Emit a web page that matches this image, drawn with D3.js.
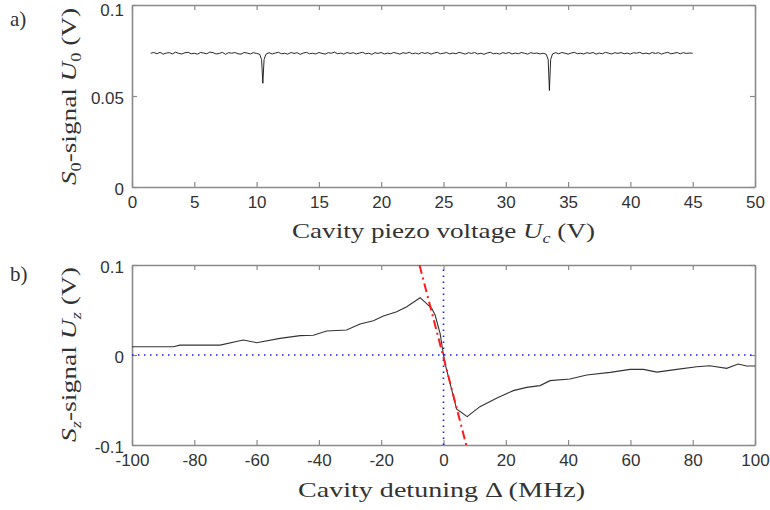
<!DOCTYPE html>
<html>
<head>
<meta charset="utf-8">
<script src="https://cdn.jsdelivr.net/npm/d3@7"></script>
<style>
  html, body { margin: 0; padding: 0; background: #fff; }
  svg { display: block; }
  .tick text { font-family: "Liberation Sans", Arial, sans-serif; font-size: 17px; fill: #333; }
  .lbl { font-family: "Liberation Serif", "DejaVu Serif", serif; font-size: 21px; fill: #333; }
</style>
</head>
<body>
<svg id="chart" width="770" height="510"></svg>
<script>
// ---- Panel a) data: S0-signal vs cavity piezo voltage ----
const piezoVoltage = [
  1.5,1.75,2,2.25,2.5,2.75,3,3.25,3.5,3.75,
  4,4.25,4.5,4.75,5,5.25,5.5,5.75,6,6.25,
  6.5,6.75,7,7.25,7.5,7.75,8,8.25,8.5,8.75,
  9,9.25,9.5,9.75,10,10.25,10.4,10.5,10.6,10.75,
  11,11.25,11.5,11.75,12,12.25,12.5,12.75,13,13.25,
  13.5,13.75,14,14.25,14.5,14.75,15,15.25,15.5,15.75,
  16,16.25,16.5,16.75,17,17.25,17.5,17.75,18,18.25,
  18.5,18.75,19,19.25,19.5,19.75,20,20.25,20.5,20.75,
  21,21.25,21.5,21.75,22,22.25,22.5,22.75,23,23.25,
  23.5,23.75,24,24.25,24.5,24.75,25,25.25,25.5,25.75,
  26,26.25,26.5,26.75,27,27.25,27.5,27.75,28,28.25,
  28.5,28.75,29,29.25,29.5,29.75,30,30.25,30.5,30.75,
  31,31.25,31.5,31.75,32,32.25,32.5,32.75,33,33.25,
  33.4,33.5,33.6,33.75,
  34,34.25,34.5,34.75,35,35.25,35.5,35.75,36,36.25,
  36.5,36.75,37,37.25,37.5,37.75,38,38.25,38.5,38.75,
  39,39.25,39.5,39.75,40,40.25,40.5,40.75,41,41.25,
  41.5,41.75,42,42.25,42.5,42.75,43,43.25,43.5,43.75,
  44,44.25,44.5,44.75,45];
const signalU0 = [
  .0735,.0739,.0732,.0740,.0730,.0736,.0738,.0731,.0741,.0734,
  .0731,.0738,.0740,.0732,.0735,.0730,.0739,.0736,.0732,.0741,
  .0738,.0731,.0734,.0740,.0729,.0738,.0735,.0739,.0732,.0730,
  .0739,.0736,.0731,.0738,.0734,.0729,.0700,.0570,.0700,.0730,
  .0738,.0731,.0736,.0740,.0732,.0735,.0730,.0739,.0734,.0738,
  .0729,.0736,.0740,.0732,.0735,.0731,.0739,.0734,.0730,.0738,
  .0735,.0741,.0732,.0736,.0730,.0739,.0734,.0738,.0731,.0736,
  .0740,.0732,.0735,.0729,.0738,.0734,.0739,.0731,.0736,.0732,
  .0739,.0735,.0730,.0738,.0734,.0740,.0732,.0736,.0731,.0739,
  .0734,.0738,.0730,.0736,.0740,.0732,.0735,.0739,.0731,.0736,
  .0732,.0740,.0735,.0730,.0738,.0734,.0739,.0731,.0735,.0729,
  .0736,.0740,.0732,.0735,.0730,.0738,.0734,.0739,.0731,.0736,
  .0732,.0739,.0735,.0730,.0738,.0734,.0736,.0731,.0735,.0729,
  .0700,.0530,.0700,.0731,
  .0738,.0732,.0739,.0735,.0730,.0736,.0740,.0732,.0735,.0731,
  .0738,.0734,.0739,.0730,.0736,.0732,.0740,.0735,.0731,.0738,
  .0734,.0739,.0732,.0736,.0730,.0738,.0735,.0740,.0732,.0736,
  .0731,.0739,.0734,.0738,.0730,.0736,.0740,.0732,.0735,.0739,
  .0732,.0738,.0734,.0736,.0735];
const xTicksA = [0,5,10,15,20,25,30,35,40,45,50];
const yTicksA = [0,0.05,0.1];

// ---- Panel b) data: Sz-signal vs cavity detuning ----
const detuning = [-100,-86.7,-84.6,-71.7,-64.3,-60,-52.5,-46,-41.8,-37.5,-31.1,-26.8,-22.5,-19.3,-15,-11.8,-7.5,-3.8,-2.7,-1.1,0,0.6,
  4.2,7.6,11.7,17,22.4,26.7,31,34.2,40.6,46,53.5,59.9,64.2,68.5,74.9,81.3,85.5,90.9,94.6,97.3,100];
const signalUz = [0.0092,0.0092,0.011,0.011,0.0167,0.0137,0.0185,0.0215,0.022,0.0267,0.0278,0.0344,0.038,0.0433,0.048,0.0537,0.0637,0.0519,0.0444,0.024,0,-0.011,
  -0.060,-0.0685,-0.0574,-0.048,-0.0396,-0.036,-0.034,-0.0285,-0.0267,-0.0222,-0.0193,-0.016,-0.016,-0.019,-0.016,-0.013,-0.012,-0.0148,-0.010,-0.0122,-0.0122];
const fitDetuning = [-7.7, 7.3];
const fitUz = [0.1, -0.1];
const xTicksB = [-100,-80,-60,-40,-20,0,20,40,60,80,100];
const yTicksB = [-0.1,0,0.1];

const svg = d3.select("#chart");
const L = 132, R = 755;
const axisColor = "#8a8a8a";
const fmt = d => String(d);

function panel(top, bottom, xDom, yDom, xTicks, yTicks) {
  const x = d3.scaleLinear().domain(xDom).range([L, R]);
  const y = d3.scaleLinear().domain(yDom).range([bottom, top]);
  const g = svg.append("g");
  const clipId = "clip" + top;
  svg.append("clipPath").attr("id", clipId).append("rect")
    .attr("x", L).attr("y", top).attr("width", R - L).attr("height", bottom - top);
  const ax = [
    g.append("g").attr("transform", `translate(0,${bottom})`).call(d3.axisBottom(x).tickValues(xTicks).tickFormat(fmt).tickSizeInner(-5).tickSizeOuter(0).tickPadding(9)),
    g.append("g").attr("transform", `translate(0,${top})`).call(d3.axisTop(x).tickValues(xTicks).tickFormat("").tickSizeInner(-5).tickSizeOuter(0)),
    g.append("g").attr("transform", `translate(${L},0)`).call(d3.axisLeft(y).tickValues(yTicks).tickFormat(fmt).tickSizeInner(-5).tickSizeOuter(0).tickPadding(8)),
    g.append("g").attr("transform", `translate(${R},0)`).call(d3.axisRight(y).tickValues(yTicks).tickFormat("").tickSizeInner(-5).tickSizeOuter(0))
  ];
  ax[2].selectAll(".tick text").attr("dy", "0.42em");
  ax.forEach(a => {
    a.select(".domain").attr("stroke", axisColor).attr("stroke-width", 1.6);
    a.selectAll(".tick line").attr("stroke", axisColor).attr("stroke-width", 1.2);
  });
  return {x, y, g, clipId, ax};
}

// Panel a
const pa = panel(5, 187, [0, 50], [0, 0.1], xTicksA, yTicksA);
pa.ax[2].selectAll(".tick text").filter(d => d === 0.1).attr("dy", "0.62em");
pa.g.append("path")
  .datum(piezoVoltage.map((v, i) => [v, signalU0[i]]))
  .attr("fill", "none").attr("stroke", "#111").attr("stroke-width", 0.9)
  .attr("d", d3.line().x(d => pa.x(d[0])).y(d => pa.y(d[1])));

// Panel b
const pb = panel(265, 445, [-100, 100], [-0.1, 0.1], xTicksB, yTicksB);
const cl = pb.g.append("g").attr("clip-path", `url(#${pb.clipId})`);
cl.append("line")
  .attr("x1", pb.x(-100)).attr("x2", pb.x(100)).attr("y1", pb.y(0)).attr("y2", pb.y(0))
  .attr("stroke", "#1a1aff").attr("stroke-width", 1.6).attr("stroke-dasharray", "1.5,4.5");
cl.append("line")
  .attr("x1", pb.x(0)).attr("x2", pb.x(0)).attr("y1", pb.y(-0.1)).attr("y2", pb.y(0.1))
  .attr("stroke", "#1a1aff").attr("stroke-width", 1.6).attr("stroke-dasharray", "1.5,4.5");
cl.append("path")
  .datum(detuning.map((v, i) => [v, signalUz[i]]))
  .attr("fill", "none").attr("stroke", "#333").attr("stroke-width", 1.1)
  .attr("d", d3.line().x(d => pb.x(d[0])).y(d => pb.y(d[1])));
cl.append("path")
  .datum(fitDetuning.map((v, i) => [v, fitUz[i]]))
  .attr("fill", "none").attr("stroke", "#ff1a1a").attr("stroke-width", 2)
  .attr("stroke-dasharray", "9,4,2,4")
  .attr("d", d3.line().x(d => pb.x(d[0])).y(d => pb.y(d[1])));

// Labels with subscripts
function rich(t, parts) {
  let prevSub = false;
  parts.forEach(([s, it, isSub]) => {
    const sp = t.append("tspan").text(s);
    if (it) sp.attr("font-style", "italic");
    if (isSub) sp.attr("font-size", "14px");
    if (isSub && !prevSub) sp.attr("dy", 5);
    if (!isSub && prevSub) sp.attr("dy", -5);
    prevSub = isSub;
  });
}
let t = svg.append("text").attr("class", "lbl").attr("x", 292).attr("y", 238)
  .attr("textLength", 303).attr("lengthAdjust", "spacingAndGlyphs");
rich(t, [["Cavity piezo voltage ", false, false], ["U", true, false], ["c", true, true], [" (V)", false, false]]);

t = svg.append("text").attr("class", "lbl").attr("x", 298).attr("y", 497)
  .attr("textLength", 287).attr("lengthAdjust", "spacingAndGlyphs")
  .text("Cavity detuning Δ (MHz)");

t = svg.append("text").attr("class", "lbl").attr("transform", "translate(76,185) rotate(-90)")
  .attr("textLength", 177).attr("lengthAdjust", "spacingAndGlyphs");
rich(t, [["S", true, false], ["0", false, true], ["-signal ", false, false], ["U", true, false], ["0", false, true], [" (V)", false, false]]);

t = svg.append("text").attr("class", "lbl").attr("transform", "translate(76,442) rotate(-90)")
  .attr("textLength", 175).attr("lengthAdjust", "spacingAndGlyphs");
rich(t, [["S", true, false], ["z", true, true], ["-signal ", false, false], ["U", true, false], ["z", true, true], [" (V)", false, false]]);

svg.append("text").attr("class", "lbl").attr("x", 10).attr("y", 26).text("a)");
svg.append("text").attr("class", "lbl").attr("x", 10).attr("y", 281).text("b)");
</script>
</body>
</html>
